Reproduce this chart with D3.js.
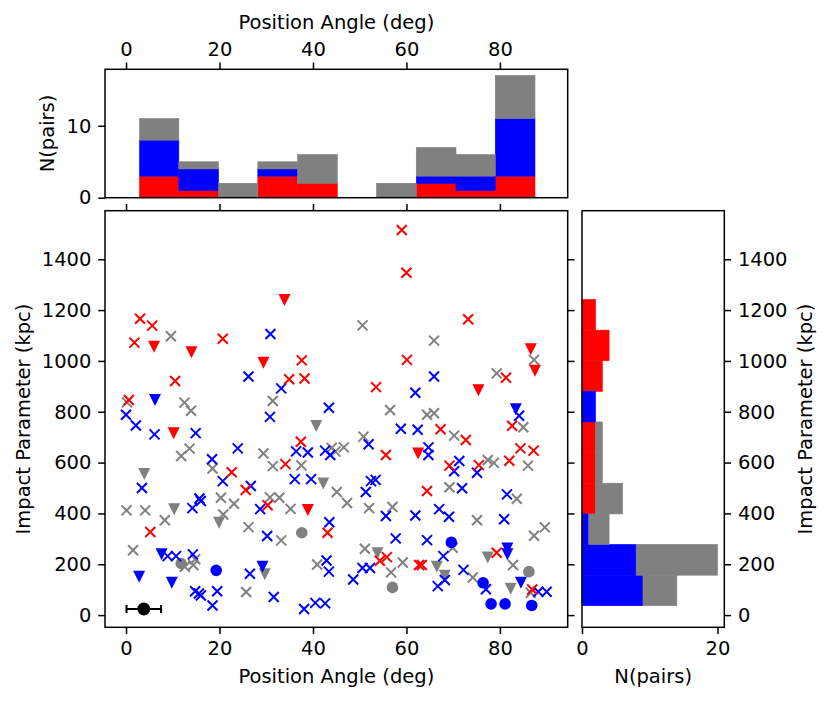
<!DOCTYPE html>
<html>
<head>
<meta charset="utf-8">
<script src="https://cdn.jsdelivr.net/npm/d3@7"></script>
<style>
  body { margin: 0; background: #fff; }
  text { font-family: "DejaVu Sans", sans-serif; }
</style>
</head>
<body>
<div id="chart"></div>
<script>
// Scatter points [position angle (deg), impact parameter (kpc)]
var grayCross = [[9.6,1097],[0.2,837],[12.5,836],[13.9,804],[50.6,1140],[31.4,842],[56.5,807],[65.9,1080],[87.3,1004],[79.3,951],[64.4,788],[65.9,794],
  [11.8,626],[13.6,655],[29.4,636],[18.5,577],[20.3,462],[23.1,438],[20.8,396],[0.1,412],[4.1,412],[8.3,373],[26.2,346],[1.5,255],[12.6,190],[14.4,197],[14.8,220],[25.7,91],
  [50.8,702],[44.0,658],[46.6,660],[44.8,643],[31.4,586],[37.5,589],[45.1,484],[47.3,441],[30.8,463],[32.8,462],[35.2,418],[52.0,421],[57.0,425],[33.2,294],[51.1,261],[59.2,207],[56.7,168],[40.9,199],
  [70.2,706],[85.0,739],[77.4,610],[78.7,599],[86.0,588],[69.2,503],[83.6,458],[75.1,373],[87.3,312],[89.6,345],[69.9,265],[82.8,197],[74.2,148],[86.6,88]];
var grayTri = [[3.9,555],[10.3,416],[19.9,363],[40.7,744],[42.2,518],[53.8,243],[29.7,161],[66.5,190],[68.2,155],[77.4,227],[82.3,104]];
var grayDot = [[11.8,203],[37.6,324],[57.0,109],[86.2,171]];

var blueCross = [[26.2,939],[30.9,1106],[33.2,892],[61.9,875],[43.4,816],[30.8,780],[65.9,939],[84.1,784],[0,788],
  [2.1,746],[6.1,711],[14.9,716],[23.9,656],[18.4,613],[20.7,527],[3.4,500],[26.7,508],[15.7,459],[16.0,449],[14.2,421],[28.7,417],[8.9,232],[10.7,232],[14.3,239],[26.5,163],[14.8,94],[15.6,85],[16.0,77],[19.5,94],[18.5,38],
  [58.8,733],[62.4,729],[51.9,672],[36.4,644],[38.9,640],[42.6,647],[43.7,630],[36.1,535],[39.6,535],[51.3,484],[52.4,527],[53.4,532],[55.6,390],[61.9,392],[43.5,365],[30.2,311],[57.7,302],[50.6,185],[52.2,185],[42.9,215],[43.4,171],[48.6,140],[31.6,71],[38.1,24],[40.5,48],[42.6,46],
  [64.7,660],[64.7,630],[71.3,606],[70.2,566],[75.1,560],[71.9,499],[81.5,475],[67.0,417],[69.1,387],[80.9,377],[64.4,295],[67.9,232],[68.2,138],[66.7,114],[72.2,178],[77.0,102],[88.2,92],[90.0,92]];
var blueTri = [[6.2,846],[83.4,810],[7.6,239],[2.8,151],[9.8,127],[29.2,190],[81.6,262],[81.6,239],[84.5,127]];
var blueDot = [[19.3,176],[69.6,286],[76.4,127],[78.1,44],[81.1,44],[86.8,38]];

var redCross = [[3.0,1166],[5.6,1139],[1.8,1072],[20.7,1087],[10.5,921],[0.6,846],[59.0,1515],[60.0,1347],[37.6,1002],[60.1,1004],[34.9,928],[38.2,931],[53.5,897],[73.2,1164],[81.3,934],
  [22.6,562],[25.6,492],[5.2,327],[37.4,682],[55.6,630],[34.1,594],[30.3,432],[43.1,324],[54.3,214],[55.8,228],[62.7,197],
  [67.3,731],[72.7,689],[82.6,745],[69.2,588],[75.5,590],[84.4,656],[87.2,647],[82.0,607],[64.4,488],[63.3,197],[79.3,245],[86.9,101]];
var redTri = [[6.0,1056],[14.0,1034],[29.4,993],[33.9,1240],[86.6,1046],[87.5,961],[75.4,885],[10.2,715],[62.5,636],[38.9,413]];

// typical error: [PA, impact, PA error]
var errPoint = [3.8, 24, 3.7];

// Histograms (counts per bin, stacked red / blue / gray)
var paEdges = [2.9, 11.3, 19.8, 28.2, 36.7, 45.2, 53.6, 62.1, 70.6, 79.0, 87.5];
var paRed  = [3,1,0,3,2,0,0,2,1,3];
var paBlue = [5,3,0,1,0,0,0,1,2,8];
var paGray = [3,1,2,1,4,0,2,4,3,6];

var ipEdges = [37, 157, 278, 398, 519, 639, 760, 880, 1001, 1121, 1242];
var ipRed  = [0,0,0,2,2,2,0,3,4,2];
var ipBlue = [9,8,1,0,0,0,2,0,0,0];
var ipGray = [5,12,3,4,1,1,0,0,0,0];

var paTicks = [0, 20, 40, 60, 80];
var ipTicks = [0, 200, 400, 600, 800, 1000, 1200, 1400];

var colors = {red: "#ff0000", blue: "#0000ff", gray: "#808080"};

var svgWidth = 830, svgHeight = 702;
var fontSize = "19.5px";
var tickLen = 6.8, tickPad = 6.8;

// panel boxes
var main = {left: 105, right: 567.7, top: 210.7, bottom: 627.3};
var topBox = {top: 69.3, bottom: 197.7};
var rightBox = {left: 582, right: 724.3};

var svg = d3.select("#chart").append("svg")
  .attr("width", svgWidth)
  .attr("height", svgHeight);

var xScale = d3.scaleLinear().domain([-4.5, 94.5]).range([main.left, main.right]);
var yScale = d3.scaleLinear().domain([-48, 1591]).range([main.bottom, main.top]);
var hyScale = d3.scaleLinear().domain([0, 17.85]).range([topBox.bottom, topBox.top]);
var hxScale = d3.scaleLinear().domain([0, 21]).range([rightBox.left, rightBox.right]);

function styleAxis(g, showLabels) {
  g.select(".domain").remove();
  g.selectAll(".tick line").attr("stroke", "#000").attr("stroke-width", 1.5);
  g.selectAll(".tick text").attr("fill", "#000")
    .style("font-size", fontSize).style("font-family", "DejaVu Sans");
  if (!showLabels) g.selectAll(".tick text").remove();
}

function addAxis(axis, tx, ty, showLabels) {
  var g = svg.append("g").attr("transform", "translate(" + tx + "," + ty + ")")
    .call(axis.tickSize(tickLen).tickPadding(tickPad).tickSizeOuter(0).tickFormat(d3.format("d")));
  styleAxis(g, showLabels);
}

// ---- top histogram (position angle) ----
var paTable = paRed.map(function (d, i) {
  return {x0: paEdges[i], x1: paEdges[i + 1], red: paRed[i], blue: paBlue[i], gray: paGray[i]};
});
var stackKeys = ["red", "blue", "gray"];
var paStack = d3.stack().keys(stackKeys)(paTable);

svg.append("g").selectAll("g")
  .data(paStack)
  .enter().append("g")
  .attr("fill", function (s) { return colors[s.key]; })
  .attr("stroke", function (s) { return colors[s.key]; })
  .attr("stroke-width", 0.6)
  .selectAll("rect")
  .data(function (s) { return s.filter(function (d) { return d[1] > d[0]; }); })
  .enter().append("rect")
  .attr("x", function (d) { return xScale(d.data.x0); })
  .attr("width", function (d) { return xScale(d.data.x1) - xScale(d.data.x0); })
  .attr("y", function (d) { return hyScale(d[1]); })
  .attr("height", function (d) { return hyScale(d[0]) - hyScale(d[1]); });

// ---- right histogram (impact parameter) ----
var ipTable = ipRed.map(function (d, i) {
  return {y0: ipEdges[i], y1: ipEdges[i + 1], red: ipRed[i], blue: ipBlue[i], gray: ipGray[i]};
});
var ipStack = d3.stack().keys(stackKeys)(ipTable);

svg.append("g").selectAll("g")
  .data(ipStack)
  .enter().append("g")
  .attr("fill", function (s) { return colors[s.key]; })
  .attr("stroke", function (s) { return colors[s.key]; })
  .attr("stroke-width", 0.6)
  .selectAll("rect")
  .data(function (s) { return s.filter(function (d) { return d[1] > d[0]; }); })
  .enter().append("rect")
  .attr("x", function (d) { return hxScale(d[0]); })
  .attr("width", function (d) { return hxScale(d[1]) - hxScale(d[0]); })
  .attr("y", function (d) { return yScale(d.data.y1); })
  .attr("height", function (d) { return yScale(d.data.y0) - yScale(d.data.y1); });

// ---- scatter ----
var crossPath = "M-5,-5L5,5M-5,5L5,-5";
var triPath = "M0,6L-6,-6L6,-6Z";

function drawCross(data, color) {
  svg.append("g").selectAll("path")
    .data(data).enter().append("path")
    .attr("d", crossPath)
    .attr("transform", function (d) { return "translate(" + xScale(d[0]) + "," + yScale(d[1]) + ")"; })
    .attr("fill", "none")
    .attr("stroke", color)
    .attr("stroke-width", 2);
}
function drawTri(data, color) {
  svg.append("g").selectAll("path")
    .data(data).enter().append("path")
    .attr("d", triPath)
    .attr("transform", function (d) { return "translate(" + xScale(d[0]) + "," + yScale(d[1]) + ")"; })
    .attr("fill", color);
}
function drawDot(data, color) {
  svg.append("g").selectAll("circle")
    .data(data).enter().append("circle")
    .attr("cx", function (d) { return xScale(d[0]); })
    .attr("cy", function (d) { return yScale(d[1]); })
    .attr("r", 5.8)
    .attr("fill", color);
}

drawCross(grayCross, colors.gray);
drawTri(grayTri, colors.gray);
drawDot(grayDot, colors.gray);
drawCross(blueCross, colors.blue);
drawTri(blueTri, colors.blue);
drawDot(blueDot, colors.blue);
drawCross(redCross, colors.red);
drawTri(redTri, colors.red);

// error bar marker
var eb = svg.append("g");
var ex0 = xScale(errPoint[0] - errPoint[2]), ex1 = xScale(errPoint[0] + errPoint[2]), ey = yScale(errPoint[1]);
eb.append("line").attr("x1", ex0).attr("x2", ex1).attr("y1", ey).attr("y2", ey)
  .attr("stroke", "#000").attr("stroke-width", 2);
[ex0, ex1].forEach(function (ex) {
  eb.append("line").attr("x1", ex).attr("x2", ex).attr("y1", ey - 4).attr("y2", ey + 4)
    .attr("stroke", "#000").attr("stroke-width", 2);
});
eb.append("circle").attr("cx", xScale(errPoint[0])).attr("cy", ey).attr("r", 6.5).attr("fill", "#000");

// ---- frames ----
function frame(x0, y0, x1, y1) {
  svg.append("rect").attr("x", x0).attr("y", y0)
    .attr("width", x1 - x0).attr("height", y1 - y0)
    .attr("fill", "none").attr("stroke", "#000").attr("stroke-width", 1.5);
}
frame(main.left, main.top, main.right, main.bottom);
frame(main.left, topBox.top, main.right, topBox.bottom);
frame(rightBox.left, main.top, rightBox.right, main.bottom);

// ---- axes ----
// main panel
addAxis(d3.axisBottom(xScale).tickValues(paTicks), 0, main.bottom, true);
addAxis(d3.axisTop(xScale).tickValues(paTicks), 0, main.top, false);
addAxis(d3.axisLeft(yScale).tickValues(ipTicks), main.left, 0, true);
addAxis(d3.axisRight(yScale).tickValues(ipTicks), main.right, 0, false);
// top histogram
addAxis(d3.axisTop(xScale).tickValues(paTicks), 0, topBox.top, true);
addAxis(d3.axisLeft(hyScale).tickValues([0, 10]), main.left, 0, true);
// right histogram
addAxis(d3.axisBottom(hxScale).tickValues([0, 20]), 0, main.bottom, true);
addAxis(d3.axisRight(yScale).tickValues(ipTicks), rightBox.right, 0, true);

// ---- axis titles ----
function label(txt, x, y, rot) {
  svg.append("text")
    .attr("transform", "translate(" + x + "," + y + ")" + (rot ? " rotate(" + rot + ")" : ""))
    .attr("text-anchor", "middle")
    .style("font-size", fontSize)
    .attr("fill", "#000")
    .text(txt);
}
var midX = (main.left + main.right) / 2;
var midY = (main.top + main.bottom) / 2;
label("Position Angle (deg)", midX, 683, 0);
label("Position Angle (deg)", midX, 29.3, 0);
label("N(pairs)", (rightBox.left + rightBox.right) / 2, 683, 0);
label("Impact Parameter (kpc)", 30, midY, -90);
label("N(pairs)", 53.5, (topBox.top + topBox.bottom) / 2, -90);
label("Impact Parameter (kpc)", 812, midY, -90);
</script>
</body>
</html>
